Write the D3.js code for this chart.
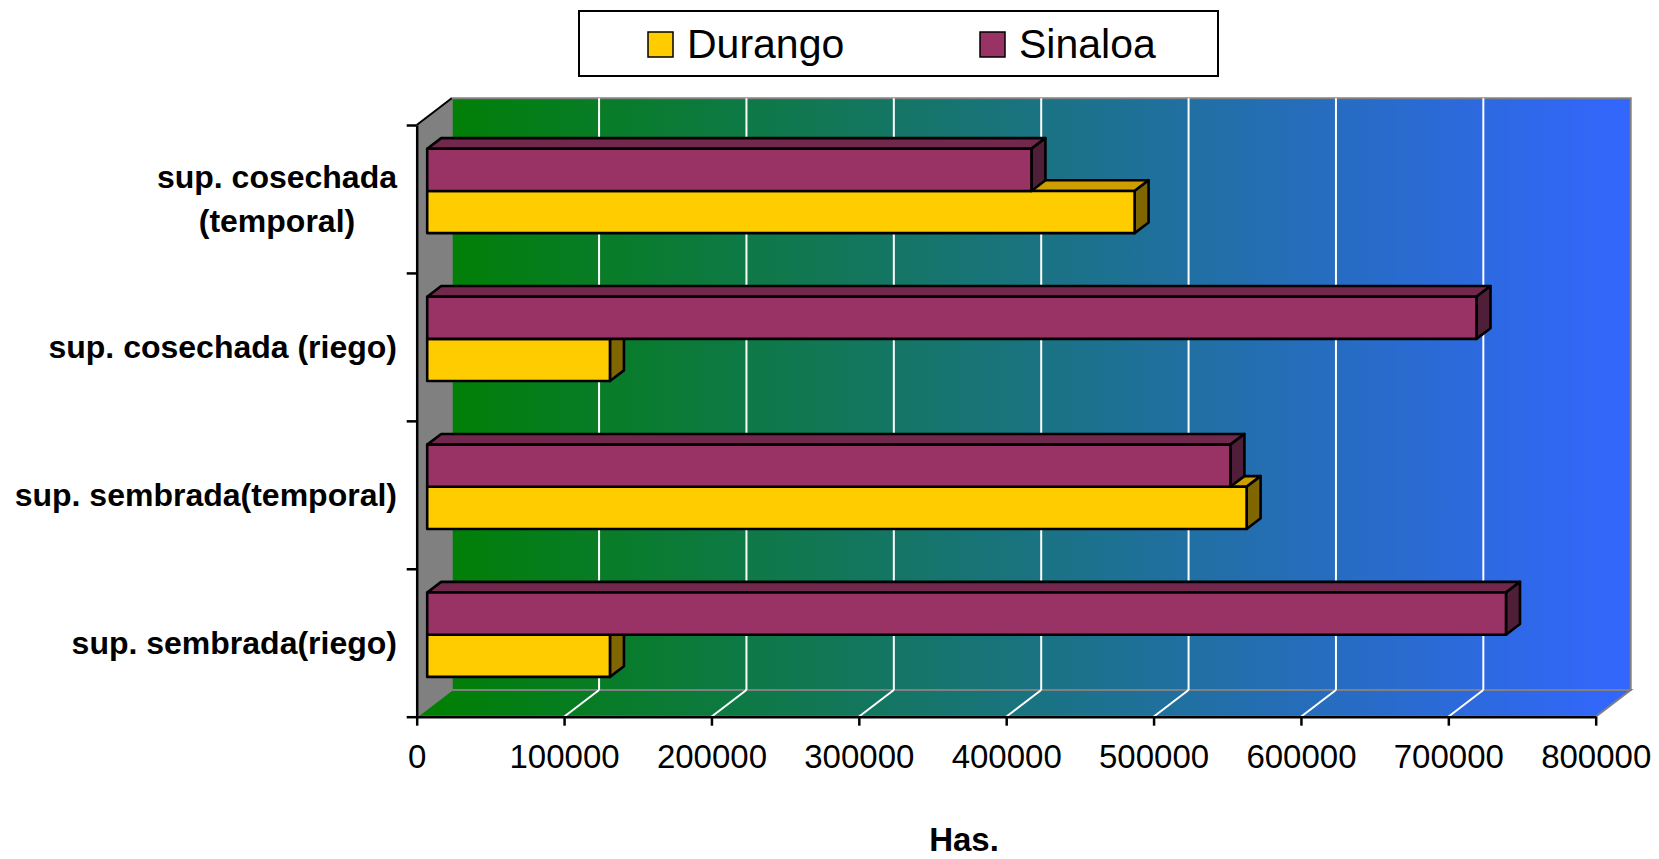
<!DOCTYPE html>
<html>
<head>
<meta charset="utf-8">
<script src="https://cdn.jsdelivr.net/npm/d3@7"></script>
<style>
  body { margin: 0; background: #fff; }
  svg { display: block; font-family: "Liberation Sans", Arial, sans-serif; }
</style>
</head>
<body>
<div id="chart"></div>
<script>
// categories listed top to bottom as they appear
var categories = ["sup. cosechada (temporal)", "sup. cosechada (riego)", "sup. sembrada(temporal)", "sup. sembrada(riego)"];
var catLabels = [["sup. cosechada", "(temporal)"], ["sup. cosechada (riego)"], ["sup. sembrada(temporal)"], ["sup. sembrada(riego)"]];
var seriesNames = ["Durango", "Sinaloa"];
var durango = [480000, 124000, 556000, 124000];
var sinaloa = [410000, 712000, 545000, 732000];
var xTicks = [0, 100000, 200000, 300000, 400000, 500000, 600000, 700000, 800000];

var width = 1659, height = 859;
var plot = {left: 416.7, right: 1595.7, top: 125, bottom: 716.7};
var depth = {dx: 35, dy: -26.7};

var colors = {
  Durango: {front: "#FFCC00", top: "#CC9E00", side: "#806600"},
  Sinaloa: {front: "#993366", top: "#71284C", side: "#4F1E38"}
};

var svg = d3.select("#chart").append("svg").attr("width", width).attr("height", height);

var defs = svg.append("defs");
var grad = defs.append("linearGradient").attr("id", "wallGrad")
  .attr("gradientUnits", "userSpaceOnUse")
  .attr("x1", plot.left).attr("x2", plot.right + depth.dx).attr("y1", 0).attr("y2", 0);
grad.append("stop").attr("offset", "0%").attr("stop-color", "#008000");
grad.append("stop").attr("offset", "100%").attr("stop-color", "#3366FF");

var x = d3.scaleLinear().domain([0, 800000]).range([plot.left, plot.right]);
var yBand = d3.scaleBand().domain(categories).range([plot.top, plot.bottom]).paddingInner(0.43).paddingOuter(0.215);
var ySeries = d3.scaleBand().domain(["Sinaloa", "Durango"]).range([0, yBand.bandwidth()]);
var yIdx = d3.scaleLinear().domain([0, categories.length]).range([plot.top, plot.bottom]);

// walls
var back = {x0: plot.left + depth.dx, x1: plot.right + depth.dx, y0: plot.top + depth.dy, y1: plot.bottom + depth.dy};

svg.append("rect")
  .attr("x", back.x0).attr("y", back.y0)
  .attr("width", back.x1 - back.x0).attr("height", back.y1 - back.y0)
  .attr("fill", "url(#wallGrad)").attr("stroke", "#808080").attr("stroke-width", 2);

svg.append("polygon")
  .attr("points", [[plot.left, plot.bottom], [back.x0, back.y1], [back.x1, back.y1], [plot.right, plot.bottom]].join(" "))
  .attr("fill", "url(#wallGrad)").attr("stroke", "#808080").attr("stroke-width", 2);

svg.append("polygon")
  .attr("points", [[plot.left, plot.top], [back.x0, back.y0], [back.x0, back.y1], [plot.left, plot.bottom]].join(" "))
  .attr("fill", "#808080");
svg.append("line")
  .attr("x1", plot.left).attr("y1", plot.top).attr("x2", back.x0).attr("y2", back.y0)
  .attr("stroke", "#000").attr("stroke-width", 2);

// gridlines on back wall and floor
var grid = svg.append("g");
grid.selectAll(".gv").data(xTicks.slice(1, -1)).enter().append("line")
  .attr("x1", function(d){ return x(d) + depth.dx; }).attr("x2", function(d){ return x(d) + depth.dx; })
  .attr("y1", back.y0).attr("y2", back.y1)
  .attr("stroke", "#fff").attr("stroke-width", 2);
grid.selectAll(".gd").data(xTicks.slice(1, -1)).enter().append("line")
  .attr("x1", function(d){ return x(d); }).attr("y1", plot.bottom)
  .attr("x2", function(d){ return x(d) + depth.dx; }).attr("y2", back.y1)
  .attr("stroke", "#fff").attr("stroke-width", 2);

// bars
var fx = depth.dx * 0.3, fy = depth.dy * 0.3;
var bx = depth.dx * 0.4, by = depth.dy * 0.4;

var bars = [];
categories.forEach(function(c, i) {
  bars.push({cat: c, series: "Durango", value: durango[i]});
  bars.push({cat: c, series: "Sinaloa", value: sinaloa[i]});
});

var barG = svg.append("g").attr("stroke", "#000").attr("stroke-width", 2.6).attr("stroke-linejoin", "round");
bars.forEach(function(b) {
  var x0 = x(0) + fx, x1 = x(b.value) + fx;
  var y0 = yBand(b.cat) + ySeries(b.series) + fy, y1 = y0 + ySeries.bandwidth();
  var col = colors[b.series];
  var g = barG.append("g");
  g.append("polygon")
    .attr("points", [[x0, y0], [x0 + bx, y0 + by], [x1 + bx, y0 + by], [x1, y0]].join(" "))
    .attr("fill", col.top);
  g.append("polygon")
    .attr("points", [[x1, y0], [x1 + bx, y0 + by], [x1 + bx, y1 + by], [x1, y1]].join(" "))
    .attr("fill", col.side);
  g.append("rect")
    .attr("x", x0).attr("y", y0).attr("width", x1 - x0).attr("height", y1 - y0)
    .attr("fill", col.front);
});

// x axis
var xAxis = d3.axisBottom(x).tickValues(xTicks).tickFormat(d3.format("d")).tickSize(9).tickPadding(19).tickSizeOuter(0);
var xg = svg.append("g").attr("transform", "translate(0," + plot.bottom + ")").call(xAxis);
xg.select(".domain").attr("stroke", "#000").attr("stroke-width", 2.5);
xg.selectAll(".tick line").attr("stroke", "#000").attr("stroke-width", 2.5);
xg.selectAll(".tick text").attr("font-size", 33).attr("fill", "#000")
  .attr("font-family", "'Liberation Sans', Arial, sans-serif");

// y axis (ticks at category boundaries)
var yAxis = d3.axisLeft(yIdx).tickValues(d3.range(categories.length + 1)).tickFormat("").tickSize(10).tickSizeOuter(0);
var yg = svg.append("g").attr("transform", "translate(" + plot.left + ",0)").call(yAxis);
yg.select(".domain").attr("stroke", "#000").attr("stroke-width", 2.5);
yg.selectAll(".tick line").attr("stroke", "#000").attr("stroke-width", 2.5);

// category labels
var labelRight = 397;
catLabels.forEach(function(lines, i) {
  var cy = (yIdx(i) + yIdx(i + 1)) / 2;
  var lh = 43.5;
  var t = svg.append("text").attr("font-size", 32).attr("font-weight", "bold").attr("fill", "#000")
    .attr("text-anchor", "middle");
  var spans = lines.map(function(l, j) {
    return t.append("tspan").attr("y", cy + (j - (lines.length - 1) / 2) * lh + 11).text(l);
  });
  var maxW = d3.max(spans, function(s){ return s.node().getComputedTextLength(); });
  spans.forEach(function(s){ s.attr("x", labelRight - maxW / 2); });
});

// axis title
svg.append("text").attr("x", 964).attr("y", 851).attr("text-anchor", "middle")
  .attr("font-size", 33).attr("font-weight", "bold").text("Has.");

// legend
var legend = svg.append("g");
legend.append("rect").attr("x", 579).attr("y", 11).attr("width", 639).attr("height", 65)
  .attr("fill", "#fff").attr("stroke", "#000").attr("stroke-width", 2);
var legX = [648, 980];
seriesNames.forEach(function(s, i) {
  legend.append("rect").attr("x", legX[i]).attr("y", 32).attr("width", 25).attr("height", 25)
    .attr("fill", colors[s].front).attr("stroke", "#000").attr("stroke-width", 1.5);
  legend.append("text").attr("x", legX[i] + 39).attr("y", 58).attr("font-size", 41).text(s);
});
</script>
</body>
</html>
